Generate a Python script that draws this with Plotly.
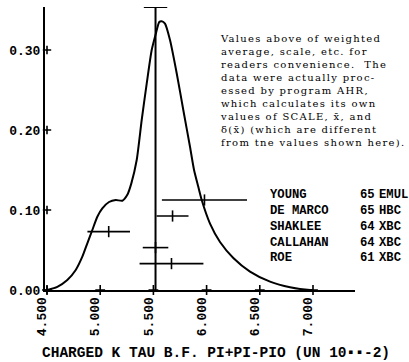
import plotly.graph_objects as go

# ---------------- data ----------------
curve_x = [4.503, 4.597, 4.691, 4.770, 4.832, 4.879, 4.926, 4.973, 5.020, 5.083,
           5.146, 5.208, 5.255, 5.292, 5.343, 5.390, 5.437, 5.484, 5.524, 5.555,
           5.578, 5.609, 5.656, 5.719, 5.781, 5.844, 5.882, 5.922, 5.954, 6.032,
           6.126, 6.251, 6.408, 6.596, 6.784, 6.972, 7.000]
curve_y = [0.000, 0.004, 0.0125, 0.025, 0.0416, 0.0584, 0.075, 0.0916, 0.102, 0.110,
           0.1125, 0.1116, 0.119, 0.133, 0.1625, 0.2125, 0.258, 0.300, 0.321, 0.335,
           0.336, 0.333, 0.3125, 0.271, 0.225, 0.179, 0.150, 0.129, 0.1125, 0.083,
           0.060, 0.040, 0.023, 0.0104, 0.0034, 0.000, 0.000]

names = ["YOUNG", "DE MARCO", "SHAKLEE", "CALLAHAN", "ROE"]
years = ["65", "65", "64", "64", "61"]
techs = ["EMUL", "HBC", "XBC", "XBC", "XBC"]
values = [5.98, 5.68, 5.08, 5.52, 5.67]
errors = [0.40, 0.15, 0.20, 0.12, 0.30]
bar_heights = [0.1125, 0.0925, 0.073, 0.053, 0.033]

avg_value = 5.52
avg_error = 0.11

x_ticks = [4.5, 5.0, 5.5, 6.0, 6.5, 7.0]
x_tick_labels = ["4.500", "5.000", "5.500", "6.000", "6.500", "7.000"]
y_ticks = [0.0, 0.1, 0.2, 0.3]
y_tick_labels = ["0.00", "0.10", "0.20", "0.30"]

note_lines = [
    "Values above of weighted",
    "average, scale, etc. for",
    "readers convenience.  The",
    "data were actually proc-",
    "essed by program AHR,",
    "which calculates its own",
    "values of SCALE, x\u0304, and",
    "\u03b4(x\u0304) (which are different",
    "from tne values shown here).",
]
x_title = "CHARGED K TAU B.F. PI+PI-PIO (UN 10\u25aa\u25aa-2)"

# ---------------- layout geometry ----------------
W, H = 409, 362
L, R, T, B = 45, 355, 7, 290
X0, X1 = 4.4812, 7.3947
Y0, Y1 = 0.0, 0.35375


def px(xp):
    return (xp - L) / (R - L)


def py(yp):
    return (B - yp) / (B - T)


mono = "Liberation Mono"
fig = go.Figure()

# ideogram curve
fig.add_trace(go.Scatter(x=curve_x, y=curve_y, mode="lines",
                         line=dict(color="black", width=2, shape="spline", smoothing=0.6),
                         hoverinfo="skip", showlegend=False, cliponaxis=False))

# weighted average line with top error bar
fig.add_trace(go.Scatter(x=[avg_value, avg_value], y=[Y0, Y1], mode="lines",
                         line=dict(color="black", width=2), showlegend=False, cliponaxis=False))
fig.add_trace(go.Scatter(x=[avg_value - avg_error, avg_value + avg_error], y=[Y1, Y1], mode="lines",
                         line=dict(color="black", width=2), showlegend=False, cliponaxis=False))

# measurements
fig.add_trace(go.Scatter(x=values, y=bar_heights, mode="markers",
                         error_x=dict(type="data", array=errors, width=0, thickness=1.6, color="black"),
                         marker=dict(symbol="line-ns", size=8, color="black",
                                     line=dict(width=1.6, color="black")),
                         showlegend=False, cliponaxis=False))

# "+" tick marks
fig.add_trace(go.Scatter(x=x_ticks, y=[0] * len(x_ticks), mode="markers",
                         marker=dict(symbol="cross-thin", size=7, line=dict(width=1.6, color="black")),
                         showlegend=False, cliponaxis=False))
fig.add_trace(go.Scatter(x=[4.5] * len(y_ticks), y=y_ticks, mode="markers",
                         marker=dict(symbol="cross-thin", size=6, line=dict(width=1.6, color="black")),
                         showlegend=False, cliponaxis=False))

fig.update_xaxes(range=[X0, X1], showline=True, linewidth=2, linecolor="black",
                 showgrid=False, zeroline=False, ticks="", tickvals=x_ticks,
                 ticktext=x_tick_labels, tickangle=-90, ticklabelshift=-5,
                 tickfont=dict(family=mono, size=13, color="black", weight="bold"))
fig.update_yaxes(range=[Y0, Y1], showline=True, linewidth=2, linecolor="black",
                 showgrid=False, zeroline=False, ticks="", tickvals=y_ticks,
                 ticktext=y_tick_labels,
                 tickfont=dict(family=mono, size=13, color="black", weight="bold"))

ann = []
# note text: one block, widened with letter spacing
span = '<span style="letter-spacing:1.3px">'
note_text = "<br>".join(span + ln + "</span>" for ln in note_lines)
ann.append(dict(text=note_text,
                xref="paper", yref="paper", x=px(218), y=py(90.5),
                xanchor="left", yanchor="middle", align="left", showarrow=False,
                font=dict(family="DejaVu Serif", size=10, color="black")))

# legend columns
for col, xp in ((names, 268), (years, 358), (techs, 377)):
    ann.append(dict(text="<br>".join(col), xref="paper", yref="paper", x=px(xp), y=py(226.5),
                    xanchor="left", yanchor="middle", align="left", showarrow=False,
                    font=dict(family=mono, size=12.2, color="black", weight="bold")))

# x title
ann.append(dict(text=x_title, xref="paper", yref="paper", x=px(215.5), y=py(352.5),
                xanchor="center", yanchor="middle", showarrow=False,
                font=dict(family=mono, size=14.5, color="black", weight="bold")))

fig.update_layout(width=W, height=H, margin=dict(l=L, r=W - R, t=T, b=H - B),
                  paper_bgcolor="white", plot_bgcolor="white", annotations=ann,
                  showlegend=False)

fig.write_html("out.html")
